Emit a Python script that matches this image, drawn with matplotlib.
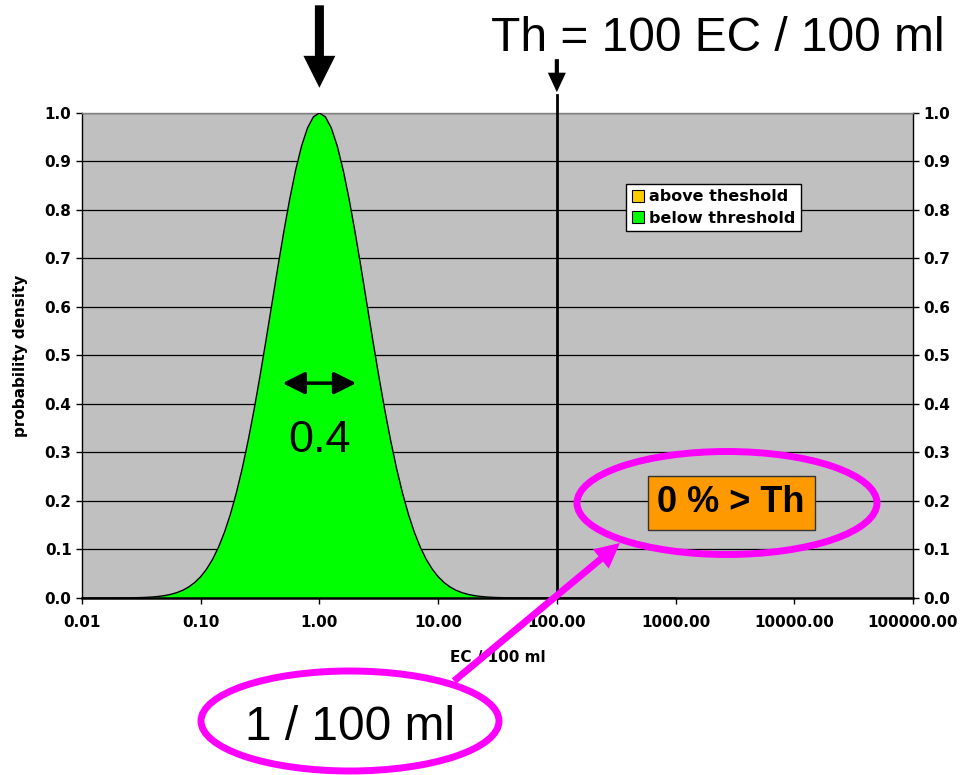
import numpy as np
import matplotlib
matplotlib.use("Agg")
import matplotlib.pyplot as plt
from matplotlib.patches import Patch, Ellipse
from matplotlib.ticker import FuncFormatter, NullLocator

# ── data ─────────────────────────────────────────────────────────────────────
log_ec = [-2.0, -1.9, -1.8, -1.7, -1.6, -1.55, -1.5, -1.45, -1.4, -1.35,
          -1.3, -1.25, -1.2, -1.15, -1.1, -1.05, -1.0, -0.95, -0.9, -0.85,
          -0.8, -0.75, -0.7, -0.65, -0.6, -0.55, -0.5, -0.45, -0.4, -0.35,
          -0.3, -0.25, -0.2, -0.15, -0.1, -0.05, 0.0, 0.05, 0.1, 0.15,
          0.2, 0.25, 0.3, 0.35, 0.4, 0.45, 0.5, 0.55, 0.6, 0.65,
          0.7, 0.75, 0.8, 0.85, 0.9, 0.95, 1.0, 1.05, 1.1, 1.15,
          1.2, 1.25, 1.3, 1.35, 1.4, 1.45, 1.5, 1.55, 1.6, 1.7,
          1.8, 1.9, 2.0, 3.0, 4.0, 5.0]
density = [0.0, 0.0, 0.0, 0.0001, 0.0003, 0.0006, 0.0009, 0.0014, 0.0022, 0.0034,
           0.0051, 0.0076, 0.0111, 0.016, 0.0228, 0.0319, 0.0439, 0.0596, 0.0796, 0.1046,
           0.1353, 0.1724, 0.2163, 0.2671, 0.3247, 0.3886, 0.4578, 0.5311, 0.6065, 0.682,
           0.7548, 0.8226, 0.8825, 0.9321, 0.9692, 0.9922, 1.0, 0.9922, 0.9692, 0.9321,
           0.8825, 0.8226, 0.7548, 0.682, 0.6065, 0.5311, 0.4578, 0.3886, 0.3247, 0.2671,
           0.2163, 0.1724, 0.1353, 0.1046, 0.0796, 0.0596, 0.0439, 0.0319, 0.0228, 0.016,
           0.0111, 0.0076, 0.0051, 0.0034, 0.0022, 0.0014, 0.0009, 0.0006, 0.0003, 0.0001,
           0.0, 0.0, 0.0, 0.0, 0.0, 0.0]

threshold = 100.0          # EC / 100 ml
peak_ec = 1.0              # 1 / 100 ml
sigma_label = "0.4"
x_ticks = [0.01, 0.1, 1, 10, 100, 1000, 10000, 100000]
y_ticks = [0.0, 0.1, 0.2, 0.3, 0.4, 0.5, 0.6, 0.7, 0.8, 0.9, 1.0]
legend_labels = ["above theshold", "below threshold"]

GREEN = "#00FF00"
ORANGE_LEG = "#FFCC00"
ORANGE_BOX = "#FF9900"
MAGENTA = "#FF00FF"
PLOT_BG = "#C0C0C0"

SMALL = dict(family="DejaVu Sans", weight="bold")
BIG = "Liberation Sans"

ec = 10.0 ** np.array(log_ec)
dens = np.array(density)

fig = plt.figure(figsize=(9.63, 7.75), dpi=100)
ax = fig.add_axes([0.0851, 0.2284, 0.863, 0.6258])
ax.set_facecolor(PLOT_BG)
ax.set_xscale("log")
ax.set_xlim(0.01, 100000)
ax.set_ylim(0, 1)

# gridlines under the fill
ax.set_axisbelow(True)
ax.yaxis.grid(True, color="black", linewidth=0.9)
ax.xaxis.grid(False)

below = ec <= threshold
above = ec >= threshold
ax.fill_between(ec[below], 0, dens[below], color=GREEN, linewidth=0, zorder=2)
ax.fill_between(ec[above], 0, dens[above], color=ORANGE_LEG, linewidth=0, zorder=2)
ax.plot(ec[ec <= 1000], dens[ec <= 1000], color="black", linewidth=1.0, zorder=3)

# threshold line, reaching a little above the plot
ax.axvline(threshold, ymin=0, ymax=1.037, color="black", linewidth=2.0,
           clip_on=False, zorder=4)

# axes cosmetics
ax.set_xticks(x_ticks)
ax.xaxis.set_minor_locator(NullLocator())
ax.xaxis.set_major_formatter(FuncFormatter(lambda v, p: f"{v:.2f}"))
ax.set_yticks(y_ticks)
ax.yaxis.set_major_formatter(FuncFormatter(lambda v, p: f"{v:.1f}"))
ax.tick_params(axis="x", direction="out", length=4.5, width=1, pad=8,
               labelsize=11)
ax.tick_params(axis="y", direction="out", length=4.5, width=1, pad=3,
               labelsize=11, left=True, right=True, labelleft=True,
               labelright=True)
for t in ax.xaxis.get_major_ticks():
    t.label1.set_fontweight("bold")
for t in ax.yaxis.get_major_ticks():
    t.label1.set_fontweight("bold")
    t.label2.set_fontweight("bold")

ax.spines["bottom"].set_linewidth(1.8)
ax.spines["left"].set_linewidth(1.0)
ax.spines["right"].set_linewidth(1.0)
ax.spines["top"].set_color("#808080")
ax.spines["top"].set_linewidth(1.0)

ax.set_xlabel("EC / 100 ml", fontsize=11, labelpad=14, **SMALL)
ax.set_ylabel("probability density", fontsize=11, labelpad=12, **SMALL)

# legend
handles = [Patch(facecolor=ORANGE_LEG, edgecolor="black", linewidth=0.8),
           Patch(facecolor=GREEN, edgecolor="black", linewidth=0.8)]
leg = ax.legend(handles, legend_labels, loc="upper left",
                bbox_to_anchor=(0.655, 0.854), borderaxespad=0,
                prop=dict(family="DejaVu Sans", weight="bold", size=11.5),
                frameon=True, fancybox=False, framealpha=1, edgecolor="black",
                handlelength=0.75, handleheight=0.75, handletextpad=0.3,
                labelspacing=0.4, borderpad=0.35)
leg.get_frame().set_linewidth(1.0)
leg.set_zorder(6)

# width marker and sigma label on the curve
ax.annotate("", xy=(10 ** -0.31, 0.443), xytext=(10 ** 0.31, 0.443),
            arrowprops=dict(arrowstyle="<|-|>,head_length=0.9,head_width=0.45",
                            mutation_scale=15, color="black", lw=2.5,
                            shrinkA=0, shrinkB=0), zorder=5)
ax.text(peak_ec, 0.3, sigma_label, ha="center", va="baseline",
        fontsize=32.5, family=BIG, zorder=5)

# arrows above the plot
ax.annotate("", xy=(peak_ec, 1.052), xycoords=("data", "axes fraction"),
            xytext=(peak_ec, 1.222), textcoords=("data", "axes fraction"),
            arrowprops=dict(arrowstyle="simple,head_length=23,head_width=23,tail_width=6.5",
                            mutation_scale=1, color="black", lw=0,
                            shrinkA=0, shrinkB=0), annotation_clip=False)
ax.annotate("", xy=(threshold, 1.043), xycoords=("data", "axes fraction"),
            xytext=(threshold, 1.111), textcoords=("data", "axes fraction"),
            arrowprops=dict(arrowstyle="simple,head_length=14,head_width=13,tail_width=3",
                            mutation_scale=1, color="black", lw=0,
                            shrinkA=0, shrinkB=0), annotation_clip=False)

# exceedance box
ax.text(0.781, 0.196, "0 % > Th", transform=ax.transAxes, ha="center",
        va="center", fontsize=26, family=BIG, weight="bold", zorder=5,
        bbox=dict(boxstyle="square,pad=0.27", facecolor=ORANGE_BOX,
                  edgecolor="#333333", linewidth=1))

fig.text(945 / 963, 1 - 51 / 775, "Th = 100 EC / 100 ml", ha="right",
         va="baseline", fontsize=34.5, family=BIG)

# magenta call-outs in pixel space
ov = fig.add_axes([0, 0, 1, 1], zorder=10)
ov.set_xlim(0, 963)
ov.set_ylim(775, 0)
ov.axis("off")
ov.patch.set_alpha(0)

ov.add_patch(Ellipse((727, 503), 300, 103, facecolor="none",
                     edgecolor=MAGENTA, linewidth=5))
ov.add_patch(Ellipse((350, 721), 298, 100, facecolor="none",
                     edgecolor=MAGENTA, linewidth=5))
ov.annotate("", xy=(620, 543), xytext=(454, 681),
            arrowprops=dict(arrowstyle="simple,head_length=18,head_width=18,tail_width=5",
                            mutation_scale=1, color=MAGENTA, lw=0,
                            shrinkA=0, shrinkB=0))
ov.text(350, 740, "1 / 100 ml", ha="center", va="baseline",
        fontsize=34.5, family=BIG)

fig.savefig("out.png", dpi=100)
